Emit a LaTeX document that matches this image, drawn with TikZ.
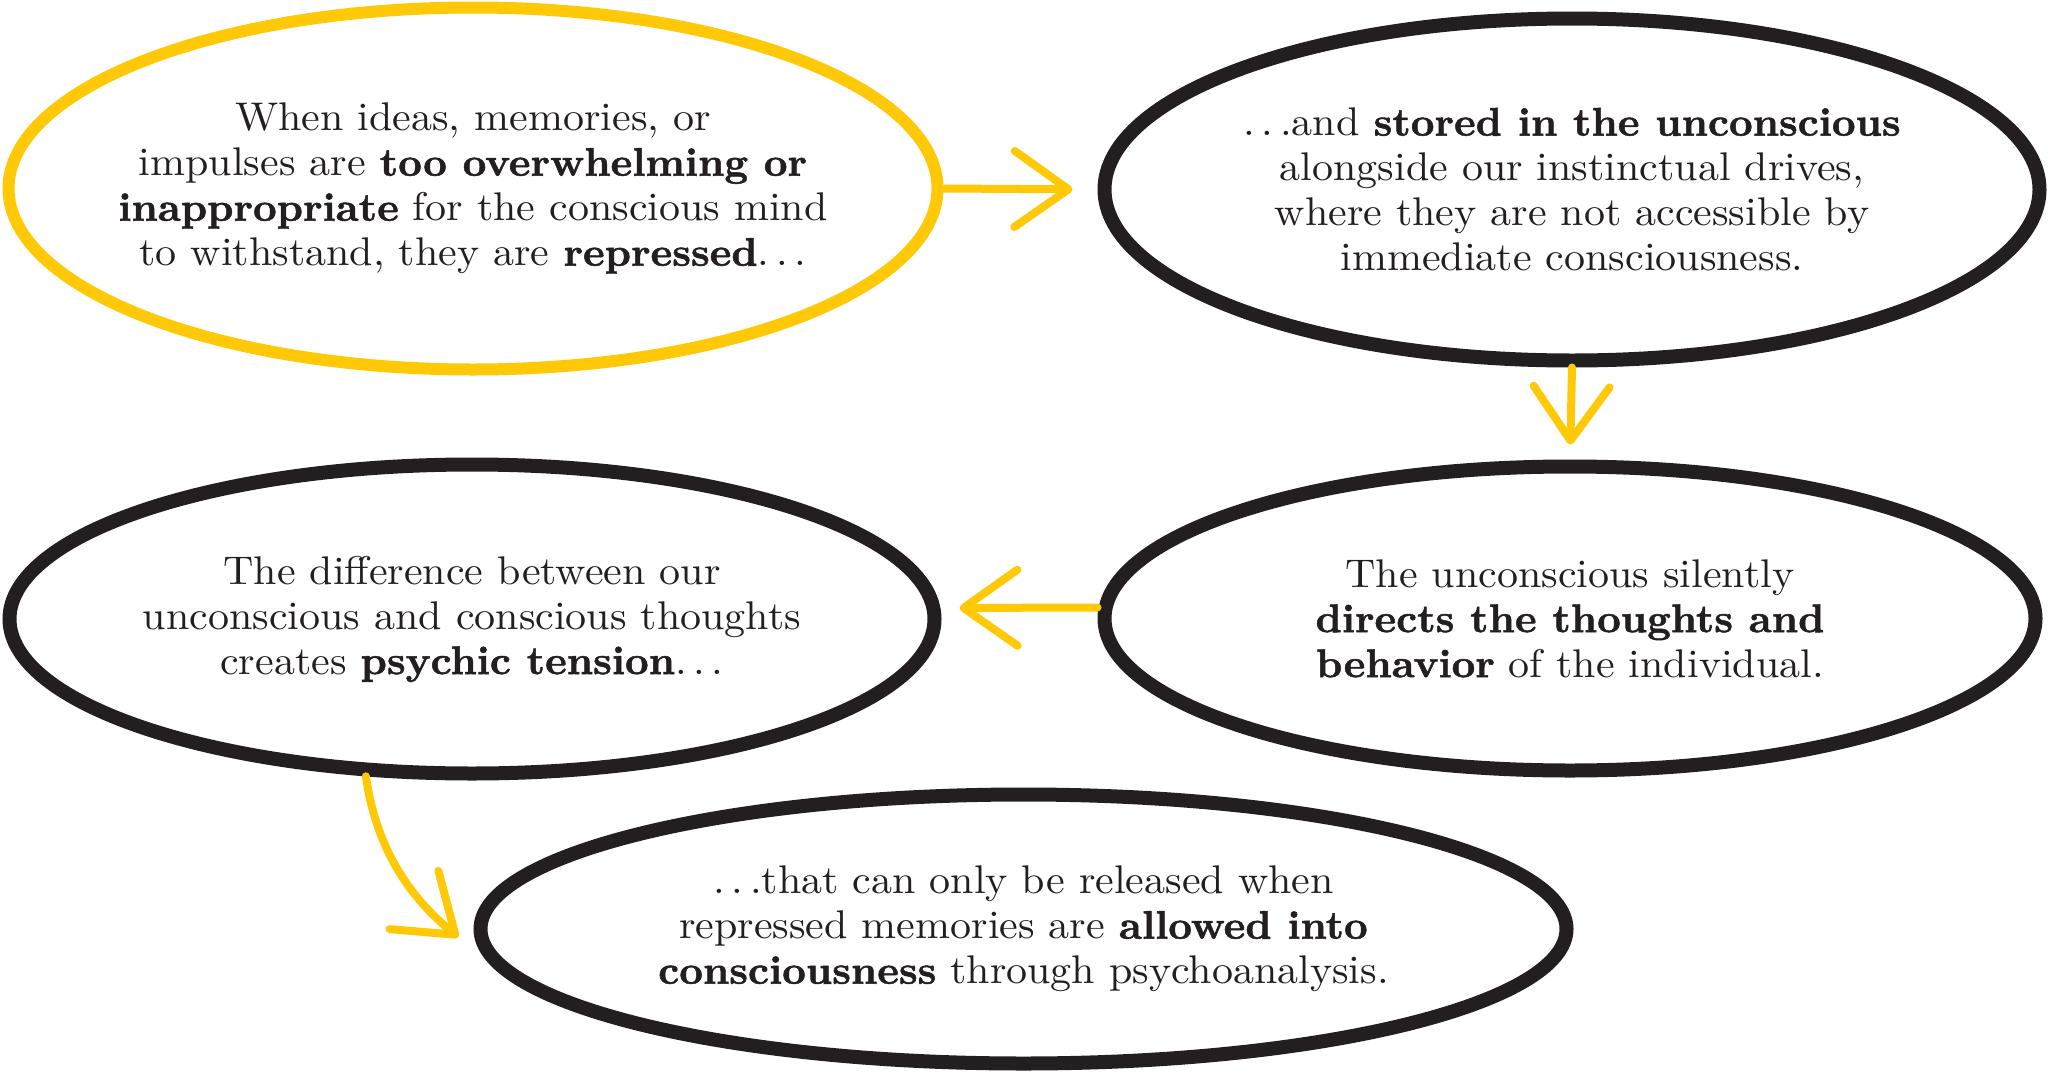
\documentclass[tikz,border=0pt]{standalone}
\usepackage{fontspec}
\setmainfont{lmroman10-regular.otf}[FakeStretch=1.05,
  BoldFont=lmroman10-bold.otf, BoldFeatures={FakeStretch=1.03,FakeBold=1.2}]
\usetikzlibrary{shapes.geometric}
\usetikzlibrary{arrows.meta}

\definecolor{freudyellow}{HTML}{FFC907}
\definecolor{inkblack}{HTML}{231F20}

\newcommand{\trail}{\mdseries.\kern0.17em.\kern0.17em.}

\tikzset{
  bubble/.style={ellipse,draw=inkblack,line width=14pt,inner xsep=-250pt,inner ysep=-90pt,
    align=center,text=inkblack},
  firstbubble/.style={bubble,draw=freudyellow,line width=12pt},
  flow/.style={draw=freudyellow,line width=8pt,line cap=round,
    -{Straight Barb[length=54pt,width=76pt,line width=8pt,round]}}
}

\begin{document}
\begin{tikzpicture}[x=1pt,y=1pt]
    \fontsize{40}{45}\selectfont
    \useasboundingbox (0,0) rectangle (2048,-1076);

    % Place the nodes
    \node[firstbubble,minimum width=929pt,minimum height=362pt] (repress) at (473,-188.5)
      {When ideas, memories, or\\ impulses are \textbf{too overwhelming or}\\
       \textbf{inappropriate} for the conscious mind\\ to withstand, they are \textbf{repressed}\trail};
    \node[bubble,minimum width=935pt,minimum height=342pt] (store) at (1572,-189.5)
      {\trail{}and \textbf{stored in the unconscious}\\ alongside our instinctual drives,\\
       where they are not accessible by\\ immediate consciousness.};
    \node[bubble,minimum width=931pt,minimum height=304pt] (direct) at (1570,-618.5)
      {The unconscious silently\\ \textbf{directs the thoughts and}\\ \textbf{behavior} of the individual.};
    \node[bubble,minimum width=925pt,minimum height=309pt] (tension) at (472,-619)
      {The difference between our\\ unconscious and conscious thoughts\\ creates \textbf{psychic tension}\trail};
    \node[bubble,minimum width=1086pt,minimum height=269pt] (release) at (1023.5,-929)
      {\trail{}that can only be released when\\ repressed memories are \textbf{allowed into}\\
       \textbf{consciousness} through psychoanalysis.};

    % Draw the arrows
    \draw[flow,shorten >=25pt] (repress.east) -- (store.west);
    \draw[flow,shorten >=15pt] (store.south) -- (direct.north);
    \draw[flow,shorten >=18pt] ([yshift=11pt]direct.west) -- ([yshift=11pt]tension.east);
    \draw[flow,shorten >=58pt] (tension.236) to[out=-82,in=140] (release.185);

\end{tikzpicture}
\end{document}
